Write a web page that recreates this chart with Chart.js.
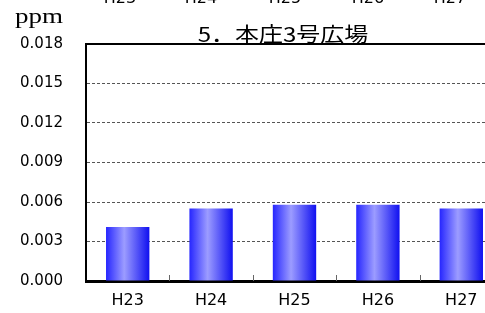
<!DOCTYPE html>
<html>
<head>
<meta charset="utf-8">
<script src="https://cdn.jsdelivr.net/npm/chart.js@4/dist/chart.umd.min.js"></script>
<style>
  body { margin: 0; overflow: hidden; background: #fff; width: 485px; height: 313px; position: relative; }
  #wrap { position: absolute; left: 0; top: 0; width: 503px; height: 313px; }
  .txt { position: absolute; white-space: nowrap; color: #000; }
  #ppm { left: 15px; top: 6px; font: 20px "Liberation Serif", serif; line-height: 20px; transform: scaleX(1.35); transform-origin: left top; }
  #title { left: 283px; top: 24px; font: 20px "Noto Sans CJK JP", sans-serif; line-height: 20px; transform: translateX(-50%) scaleX(1.2); }
  .cut { top: -10px; font: 16px "DejaVu Sans", sans-serif; line-height: 16px; transform: translateX(-50%); }
</style>
</head>
<body>
<div id="wrap"><canvas id="chart"></canvas></div>
<div id="ppm" class="txt">ppm</div>
<div id="title" class="txt">5．本庄3号広場</div>
<div id="cuts"></div>
<script>
const categories = ["H23", "H24", "H25", "H26", "H27"];
const values = [0.0041, 0.0055, 0.0058, 0.0058, 0.0055];
const yTicks = [0, 0.003, 0.006, 0.009, 0.012, 0.015, 0.018];
// labels of the chart above, cut off at the top edge
const cutLabels = ["H23", "H24", "H25", "H26", "H27"];
const cutCenters = [120, 201, 285, 368, 450];

const cuts = document.getElementById("cuts");
cutLabels.forEach((t, i) => {
  const d = document.createElement("div");
  d.className = "txt cut";
  d.style.left = cutCenters[i] + "px";
  d.textContent = t;
  cuts.appendChild(d);
});

function barGradient(context) {
  const chart = context.chart;
  const x = chart.scales.x;
  if (!x || !chart.chartArea) return "#2a2aff";
  const c = x.getPixelForValue(context.dataIndex);
  const half = (x.width / categories.length) * 0.52 / 2;
  const g = chart.ctx.createLinearGradient(c - half, 0, c + half, 0);
  g.addColorStop(0, "#2626ff");
  g.addColorStop(0.42, "#9c9cff");
  g.addColorStop(1, "#1010f0");
  return g;
}

const frame = {
  id: "frame",
  afterDraw(chart) {
    const { ctx, chartArea } = chart;
    const x = chart.scales.x;
    ctx.save();
    ctx.strokeStyle = "#000";
    ctx.lineWidth = 2;
    ctx.beginPath();
    ctx.moveTo(chartArea.left - 1, chartArea.top);
    ctx.lineTo(chartArea.right, chartArea.top);
    ctx.stroke();
    // small tick marks between categories, pointing into the plot
    ctx.strokeStyle = "#666";
    ctx.lineWidth = 1;
    for (let i = 1; i < categories.length; i++) {
      const px = Math.round((x.getPixelForValue(i - 1) + x.getPixelForValue(i)) / 2) + 0.5;
      ctx.beginPath();
      ctx.moveTo(px, chartArea.bottom);
      ctx.lineTo(px, chartArea.bottom - 6);
      ctx.stroke();
    }
    ctx.restore();
  },
};

const near = (v, t) => Math.abs(v - t) < 1e-9;

new Chart(document.getElementById("chart"), {
  type: "bar",
  data: {
    labels: categories,
    datasets: [
      {
        data: values,
        backgroundColor: barGradient,
        borderWidth: 0,
        barPercentage: 0.52,
        categoryPercentage: 1,
      },
    ],
  },
  options: {
    responsive: true,
    maintainAspectRatio: false,
    animation: false,
    layout: { padding: { top: 44, left: 0, right: 0, bottom: 0 } },
    plugins: {
      legend: { display: false },
      tooltip: { enabled: false },
    },
    scales: {
      x: {
        grid: { display: false, drawTicks: false },
        border: { display: true, color: "#000", width: 3 },
        ticks: {
          color: "#000",
          font: { family: "DejaVu Sans", size: 16 },
          padding: 10,
          maxRotation: 0,
        },
        afterFit(scale) { scale.height = 32; },
      },
      y: {
        min: 0,
        max: 0.018,
        afterBuildTicks(scale) { scale.ticks = yTicks.map((v) => ({ value: v })); },
        grid: {
          drawTicks: false,
          lineWidth: 1,
          color: (ctx) =>
            ctx.tick && (near(ctx.tick.value, 0) || near(ctx.tick.value, 0.018)) ? "rgba(0,0,0,0)" : "#555",
        },
        border: { display: true, color: "#000", width: 2, dash: [3, 2] },
        ticks: {
          color: "#000",
          font: { family: "DejaVu Sans", size: 15 },
          padding: 23,
          callback: (v) => Number(v).toFixed(3),
        },
        afterFit(scale) { scale.width = 86; },
      },
    },
  },
  plugins: [frame],
});
</script>
</body>
</html>
